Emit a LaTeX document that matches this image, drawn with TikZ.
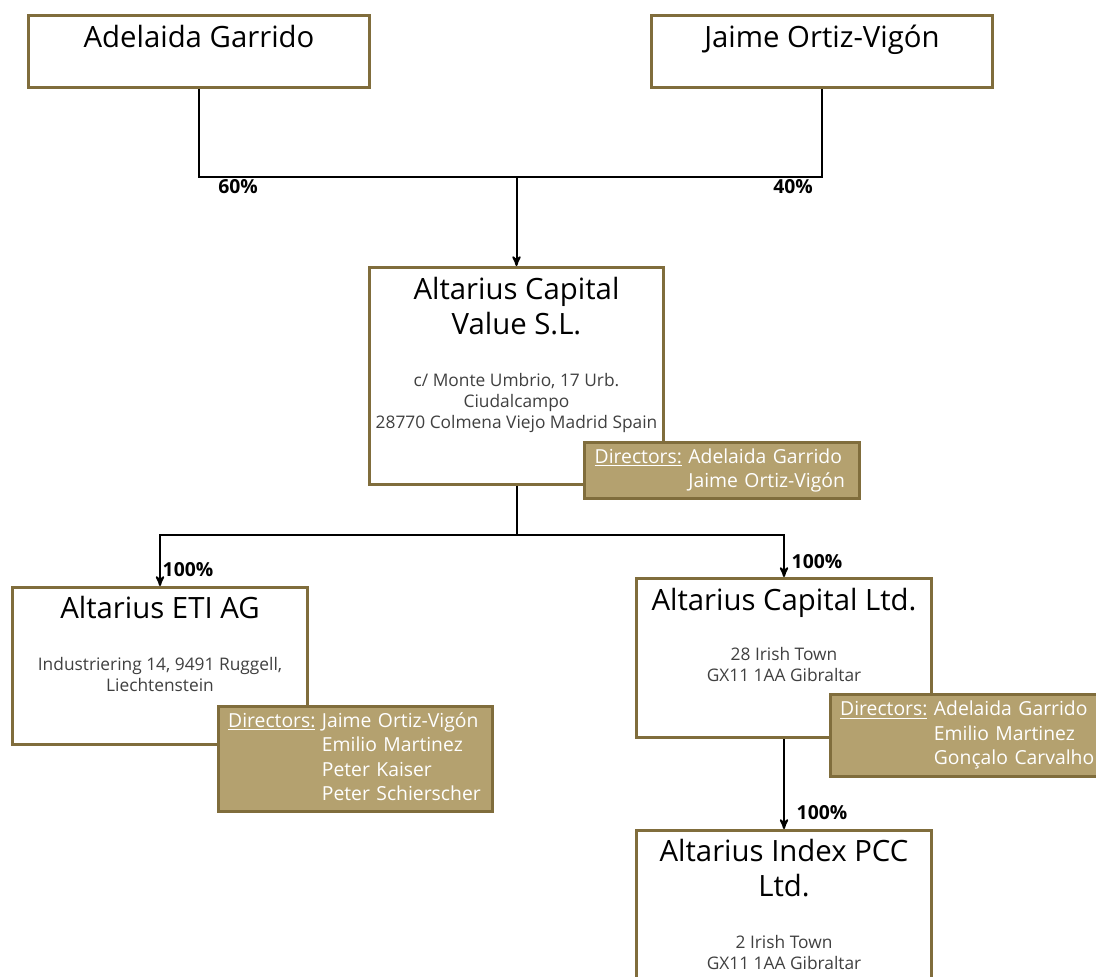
\documentclass[tikz,border=0pt]{standalone}
\usepackage{fontspec}
\setmainfont{Open Sans}
\usetikzlibrary{arrows,calc,positioning}
\definecolor{goldline}{RGB}{128,109,60}
\definecolor{goldfill}{RGB}{180,161,111}
\definecolor{addrgrey}{RGB}{64,64,64}

\begin{document}
\begin{tikzpicture}[>=stealth', x=0.75pt, y=-0.75pt,
    entity/.style={draw=goldline, line width=2.2pt, fill=white, inner sep=0pt},
    dirbox/.style={draw=goldline, line width=2.2pt, fill=goldfill, text=white,
      inner xsep=7.5pt, inner ysep=0pt, align=left, text width=191pt,
      font=\fontsize{14.5}{18.4}\selectfont},
    title/.style={anchor=base, align=center, font=\fontsize{22}{26.25}\selectfont},
    addr/.style={anchor=base, align=center, text=addrgrey,
      font=\fontsize{13}{15.5}\selectfont},
    pct/.style={font=\fontsize{14.5}{16}\selectfont\bfseries},
    link/.style={line width=1.5pt}]
  \useasboundingbox (0,0) rectangle (1096,976);

  % shareholders
  \node [entity, minimum width=255.75pt, minimum height=54pt] (adel) at (199,51.5) {};
  \node [entity, minimum width=255.75pt, minimum height=54pt] (jaime) at (822,51.5) {};
  \node [title] (adelname) at ($(adel.north)+(0,33)$) {Adelaida Garrido};
  \node [title] (jaimename) at ($(jaime.north)+(0,33)$) {Jaime Ortiz-Vigón};

  % holding (base = last line)
  \node [entity, minimum width=220.5pt, minimum height=162.75pt] (value) at (516.5,376) {};
  \node [title] (valuename) at ($(value.north)+(0,68)$) {Altarius Capital\\Value S.L.};
  \node [addr] (valueaddr) at ($(value.north)+(0,162)$)
    {c/ Monte Umbrio, 17 Urb.\\Ciudalcampo\\28770 Colmena Viejo Madrid Spain};
  \node [dirbox, minimum width=206pt, minimum height=42pt] (valuedir) at (722,470.5)
    {\begin{tabular}{@{}l@{\ }l@{}}\underline{Directors:} & Adelaida Garrido\\
      & Jaime Ortiz-Vigón\end{tabular}};

  % subsidiaries
  \node [entity, minimum width=221.25pt, minimum height=117.75pt] (eti) at (160,666) {};
  \node [title] (etiname) at ($(eti.north)+(0,32)$) {Altarius ETI AG};
  \node [addr] (etiaddr) at ($(eti.north)+(0,105.5)$)
    {Industriering 14, 9491 Ruggell,\\Liechtenstein};
  \node [dirbox, minimum width=206pt, minimum height=78.75pt] (etidir) at (355.5,759)
    {\begin{tabular}{@{}l@{\ }l@{}}\underline{Directors:} & Jaime Ortiz-Vigón\\
      & Emilio Martinez\\ & Peter Kaiser\\ & Peter Schierscher\end{tabular}};

  \node [entity, minimum width=221.25pt, minimum height=119.25pt] (ltd) at (784,658) {};
  \node [title] (ltdname) at ($(ltd.north)+(0,33)$) {Altarius Capital Ltd.};
  \node [addr] (ltdaddr) at ($(ltd.north)+(0,104.5)$)
    {28 Irish Town\\GX11 1AA Gibraltar};
  \node [dirbox, minimum width=206pt, minimum height=61.5pt] (ltddir) at (967.5,735.5)
    {\begin{tabular}{@{}l@{\ }l@{}}\underline{Directors:} & Adelaida Garrido\\
      & Emilio Martinez\\ & Gonçalo Carvalho\end{tabular}};

  \node [entity, minimum width=221.25pt, minimum height=162.75pt] (index) at (784,939) {};
  \node [title] (indexname) at ($(index.north)+(0,67)$) {Altarius Index PCC\\Ltd.};
  \node [addr] (indexaddr) at ($(index.north)+(0,140.5)$)
    {2 Irish Town\\GX11 1AA Gibraltar};

  % ownership lines
  \coordinate (join) at (value.north |- 0,177);
  \coordinate (split) at (value.south |- 0,535);
  \draw [link] (adel.south) |- (join) -| (jaime.south);
  \draw [link, ->] (join) -- (value.north);
  \draw [link] (value.south) -- (split);
  \draw [link, ->] (split) -| (eti.north);
  \draw [link, ->] (split) -| (ltd.north);
  \draw [link, ->] (ltd.south) -- (index.north);

  \node [pct] (p60) at (238,187) {60\%};
  \node [pct] (p40) at (793,187) {40\%};
  \node [pct] (peti) at (188,570) {100\%};
  \node [pct] (pltd) at (817,562) {100\%};
  \node [pct] (pindex) at (822,813) {100\%};
\end{tikzpicture}
\end{document}
